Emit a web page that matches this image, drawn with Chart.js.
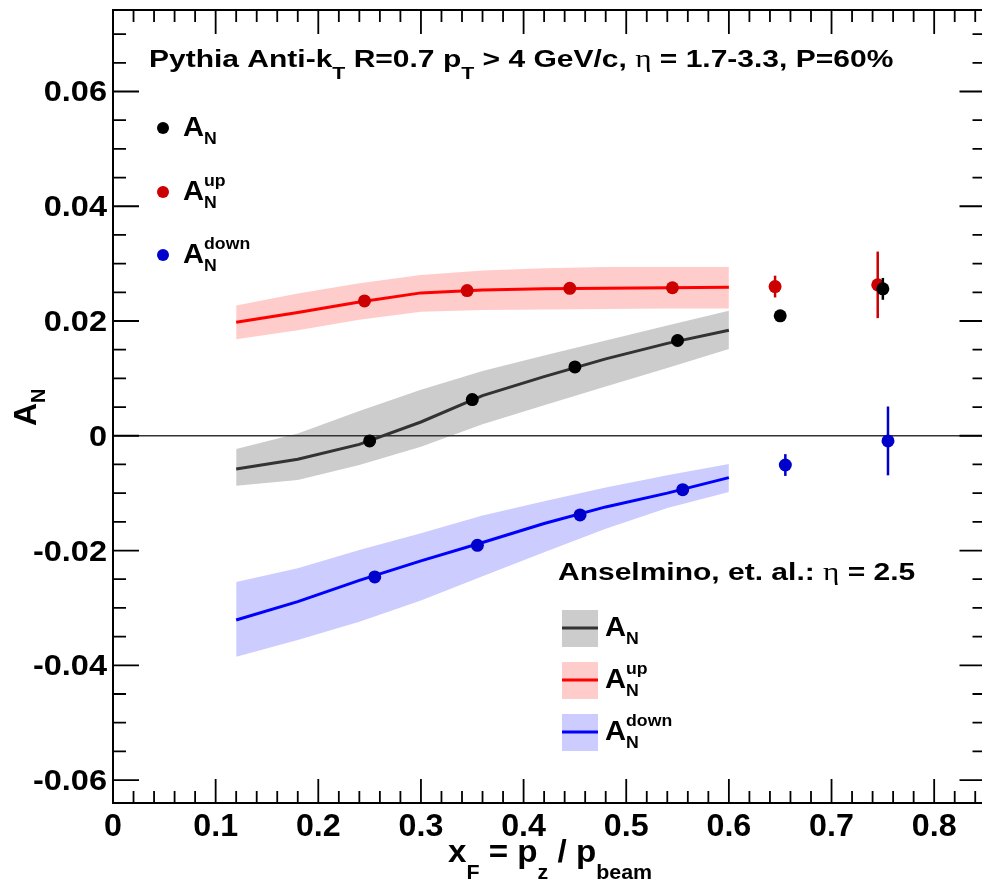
<!DOCTYPE html>
<html>
<head>
<meta charset="utf-8">
<script src="https://cdn.jsdelivr.net/npm/chart.js@4.4.1/dist/chart.umd.min.js"></script>
<style>
  html, body { margin: 0; padding: 0; background: #fff; overflow: hidden; }
  canvas { display: block; }
</style>
</head>
<body>
<canvas id="anChart" width="992" height="883"></canvas>
<script>
// 軸の範囲
const X_MIN = 0, X_MAX = 0.85;
const Y_MIN = -0.064, Y_MAX = 0.0742;

// 目盛ラベル
const xTicks = [0, 0.1, 0.2, 0.3, 0.4, 0.5, 0.6, 0.7, 0.8];
const xTickLabels = ['0', '0.1', '0.2', '0.3', '0.4', '0.5', '0.6', '0.7', '0.8'];
const yTicks = [-0.06, -0.04, -0.02, 0, 0.02, 0.04, 0.06];
const yTickLabels = ['-0.06', '-0.04', '-0.02', '0', '0.02', '0.04', '0.06'];

// 理論曲線 (Anselmino et al.)
const theoryX = [0.12, 0.18, 0.24, 0.30, 0.36, 0.42, 0.48, 0.54, 0.60];
const anLine  = [-0.0058, -0.0041, -0.0015, 0.0024, 0.0070, 0.0103, 0.0134, 0.0161, 0.0184];
const anUpper = [-0.0023, 0.0004, 0.0043, 0.0080, 0.0113, 0.0140, 0.0166, 0.0192, 0.0218];
const anLower = [-0.0087, -0.0077, -0.0051, -0.0019, 0.0020, 0.0053, 0.0086, 0.0118, 0.0151];
const upLine  = [0.0198, 0.0215, 0.0233, 0.0249, 0.0254, 0.0256, 0.0257, 0.0258, 0.0259];
const upUpper = [0.0227, 0.0248, 0.0266, 0.0280, 0.0288, 0.0292, 0.0294, 0.0294, 0.0294];
const upLower = [0.0168, 0.0184, 0.0202, 0.0216, 0.0219, 0.0220, 0.0221, 0.0222, 0.0222];
const downLine  = [-0.0321, -0.0289, -0.0252, -0.0218, -0.0186, -0.0153, -0.0124, -0.0100, -0.0073];
const downUpper = [-0.0255, -0.0231, -0.0199, -0.0170, -0.0139, -0.0114, -0.0090, -0.0069, -0.0049];
const downLower = [-0.0385, -0.0356, -0.0324, -0.0287, -0.0245, -0.0203, -0.0162, -0.0126, -0.0098];

// Pythia の点
const anX   = [0.25, 0.35, 0.45, 0.55, 0.65, 0.75];
const anY   = [-0.0009, 0.0063, 0.0120, 0.0166, 0.0209, 0.0256];
const anErr = [0.0003, 0.0003, 0.0003, 0.0003, 0.0005, 0.0019];
const upX   = [0.245, 0.345, 0.445, 0.545, 0.645, 0.745];
const upY   = [0.0235, 0.0253, 0.0257, 0.0258, 0.0260, 0.0263];
const upErr = [0.0003, 0.0003, 0.0003, 0.0003, 0.0019, 0.0058];
const downX   = [0.255, 0.355, 0.455, 0.555, 0.655, 0.755];
const downY   = [-0.0246, -0.0191, -0.0138, -0.0094, -0.0051, -0.0009];
const downErr = [0.0003, 0.0003, 0.0003, 0.0003, 0.0019, 0.0060];

const BOLD = '"Liberation Sans", Arial, sans-serif';
const ETA = { weight: 'normal', family: '"Liberation Serif", serif' };

function toXY(xs, ys) {
    return xs.map((x, i) => ({ x: x, y: ys[i] }));
}

// 添字付きテキストを描く (sx: 横方向の伸縮)
function drawRich(ctx, x, y, parts, sx) {
    ctx.save();
    ctx.translate(x, y);
    ctx.scale(sx || 1, 1);
    let cx = 0;
    parts.forEach(p => {
        ctx.font = (p.weight || 'bold') + ' ' + p.size + 'px ' + (p.family || BOLD);
        if (p.sub !== undefined || p.sup !== undefined) {
            let w = 0;
            if (p.sub) { ctx.fillText(p.sub, cx, p.subDy); w = ctx.measureText(p.sub).width; }
            if (p.sup) { ctx.fillText(p.sup, cx, p.supDy); w = Math.max(w, ctx.measureText(p.sup).width); }
            cx += w;
        } else {
            ctx.fillText(p.text, cx, p.dy || 0);
            cx += ctx.measureText(p.text).width;
        }
    });
    ctx.restore();
}

function bandSet(ys, color, target) {
    return {
        data: toXY(theoryX, ys),
        borderWidth: 0,
        pointRadius: 0,
        backgroundColor: color,
        fill: target === undefined ? false : target,
        tension: 0,
        order: 3
    };
}

function lineSet(ys, color) {
    return {
        data: toXY(theoryX, ys),
        borderColor: color,
        borderWidth: 3,
        pointRadius: 0,
        fill: false,
        tension: 0,
        order: 1
    };
}

function pointSet(xs, ys, errs, color) {
    return {
        data: toXY(xs, ys),
        errors: errs,
        showLine: false,
        pointRadius: 6.5,
        pointBorderWidth: 0,
        pointBackgroundColor: color,
        backgroundColor: color,
        borderColor: color,
        order: 0
    };
}

// エラーバー
const errorBarPlugin = {
    id: 'errorBars',
    beforeDatasetDraw(chart, args) {
        const ds = chart.data.datasets[args.index];
        if (!ds.errors) return;
        const ctx = chart.ctx;
        const xs = chart.scales.x, ys = chart.scales.y;
        ctx.save();
        ctx.strokeStyle = ds.borderColor;
        ctx.lineWidth = 2.5;
        ds.data.forEach((p, i) => {
            const px = xs.getPixelForValue(p.x);
            ctx.beginPath();
            ctx.moveTo(px, ys.getPixelForValue(p.y - ds.errors[i]));
            ctx.lineTo(px, ys.getPixelForValue(p.y + ds.errors[i]));
            ctx.stroke();
        });
        ctx.restore();
    }
};

// 枠・目盛・ラベル・凡例 (ROOT風)
const framePlugin = {
    id: 'rootFrame',
    afterDraw(chart) {
        const ctx = chart.ctx;
        const a = chart.chartArea;
        const xs = chart.scales.x, ys = chart.scales.y;
        ctx.save();
        ctx.strokeStyle = '#000';
        ctx.fillStyle = '#000';
        ctx.lineWidth = 2;
        ctx.strokeRect(a.left, a.top, a.right - a.left, a.bottom - a.top);

        // 目盛
        ctx.lineWidth = 1.8;
        ctx.beginPath();
        for (let i = 0; i <= Math.round(X_MAX / 0.02); i++) {
            const px = xs.getPixelForValue(i * 0.02);
            const len = (i % 5 === 0) ? 24 : 12;
            ctx.moveTo(px, a.bottom); ctx.lineTo(px, a.bottom - len);
            ctx.moveTo(px, a.top); ctx.lineTo(px, a.top + len);
        }
        for (let i = Math.ceil(Y_MIN / 0.005); i <= Math.floor(Y_MAX / 0.005); i++) {
            const py = ys.getPixelForValue(i * 0.005);
            const len = (i % 4 === 0) ? 26 : 13;
            ctx.moveTo(a.left, py); ctx.lineTo(a.left + len, py);
            ctx.moveTo(a.right, py); ctx.lineTo(a.right - len, py);
        }
        ctx.stroke();

        // 目盛ラベル
        ctx.textBaseline = 'alphabetic';
        ctx.font = 'bold 31px ' + BOLD;
        ctx.textAlign = 'center';
        xTicks.forEach((v, i) => {
            ctx.save();
            ctx.translate(xs.getPixelForValue(v), a.bottom + 33);
            ctx.scale(1.04, 1);
            ctx.fillText(xTickLabels[i], 0, 0);
            ctx.restore();
        });
        ctx.font = 'bold 29px ' + BOLD;
        ctx.textAlign = 'right';
        yTicks.forEach((v, i) => {
            ctx.save();
            ctx.translate(a.left - 6, ys.getPixelForValue(v) + 10);
            ctx.scale(1.12, 1);
            ctx.fillText(yTickLabels[i], 0, 0);
            ctx.restore();
        });

        ctx.textAlign = 'left';
        // x軸タイトル
        drawRich(ctx, 448, 862, [
            { text: 'x', size: 31 },
            { sub: 'F', subDy: 17, size: 20 },
            { text: ' = p', size: 31 },
            { sub: 'z', subDy: 17, size: 20 },
            { text: ' / p', size: 31 },
            { sub: 'beam', subDy: 17, size: 20 }
        ], 1.07);
        // y軸タイトル
        ctx.save();
        ctx.translate(36, 426);
        ctx.rotate(-Math.PI / 2);
        drawRich(ctx, 0, 0, [
            { text: 'A', size: 32 },
            { sub: 'N', subDy: 9, size: 20 }
        ]);
        ctx.restore();

        // 上部のテキスト
        drawRich(ctx, 149, 67, [
            { text: 'Pythia Anti-k', size: 24 },
            { sub: 'T', subDy: 12, size: 17 },
            { text: ' R=0.7 p', size: 24 },
            { sub: 'T', subDy: 12, size: 17 },
            { text: ' > 4 GeV/c, ', size: 24 },
            Object.assign({ text: '\u03b7', size: 25 }, ETA),
            { text: ' = 1.7-3.3, P=60%', size: 24 }
        ], 1.25);

        // 凡例1 (Pythia)
        const leg1 = [
            { color: '#000000', y: 128, sup: undefined },
            { color: '#cc0000', y: 192, sup: 'up' },
            { color: '#0000cc', y: 255, sup: 'down' }
        ];
        leg1.forEach(e => {
            ctx.fillStyle = e.color;
            ctx.beginPath();
            ctx.arc(163, e.y, 6, 0, Math.PI * 2);
            ctx.fill();
            ctx.fillStyle = '#000';
            drawRich(ctx, 183, e.y + 8, [
                { text: 'A', size: 28 },
                { sub: 'N', subDy: 8, sup: e.sup, supDy: -14, size: 17 }
            ], 1.04);
        });

        // 凡例2 (Anselmino)
        drawRich(ctx, 558, 580, [
            { text: 'Anselmino, et. al.: ', size: 24 },
            Object.assign({ text: '\u03b7', size: 25 }, ETA),
            { text: ' = 2.5', size: 24 }
        ], 1.25);
        const leg2 = [
            { band: 'rgb(204,204,204)', line: '#333333', y: 628, sup: undefined },
            { band: 'rgb(255,204,204)', line: '#ff0000', y: 680, sup: 'up' },
            { band: 'rgb(204,204,255)', line: '#0000ff', y: 732, sup: 'down' }
        ];
        leg2.forEach(e => {
            ctx.fillStyle = e.band;
            ctx.fillRect(562, e.y - 18, 36, 37);
            ctx.strokeStyle = e.line;
            ctx.lineWidth = 3;
            ctx.beginPath();
            ctx.moveTo(562, e.y); ctx.lineTo(598, e.y);
            ctx.stroke();
            ctx.fillStyle = '#000';
            drawRich(ctx, 605, e.y + 8, [
                { text: 'A', size: 28 },
                { sub: 'N', subDy: 8, sup: e.sup, supDy: -14, size: 17 }
            ], 1.04);
        });
        ctx.restore();
    }
};

const datasets = [
    bandSet(anUpper, 'rgb(204,204,204)', 1),
    bandSet(anLower, 'rgb(204,204,204)'),
    bandSet(upUpper, 'rgb(255,204,204)', 3),
    bandSet(upLower, 'rgb(255,204,204)'),
    bandSet(downUpper, 'rgb(204,204,255)', 5),
    bandSet(downLower, 'rgb(204,204,255)'),
    // y=0 の線
    {
        data: [{ x: X_MIN, y: 0 }, { x: X_MAX, y: 0 }],
        borderColor: '#333333',
        borderWidth: 1.5,
        pointRadius: 0,
        fill: false,
        order: 2
    },
    lineSet(anLine, '#333333'),
    lineSet(upLine, '#ff0000'),
    lineSet(downLine, '#0000ff'),
    pointSet(anX, anY, anErr, '#000000'),
    pointSet(upX, upY, upErr, '#cc0000'),
    pointSet(downX, downY, downErr, '#0000cc')
];

new Chart(document.getElementById('anChart').getContext('2d'), {
    type: 'line',
    data: { datasets },
    options: {
        responsive: false,
        animation: false,
        devicePixelRatio: 1,
        layout: { padding: { left: 113, top: 10, right: 3, bottom: 80 } },
        plugins: {
            legend: { display: false },
            tooltip: { enabled: false },
            filler: { propagate: false }
        },
        scales: {
            x: { type: 'linear', min: X_MIN, max: X_MAX, display: false },
            y: { type: 'linear', min: Y_MIN, max: Y_MAX, display: false }
        }
    },
    plugins: [errorBarPlugin, framePlugin]
});
</script>
</body>
</html>
